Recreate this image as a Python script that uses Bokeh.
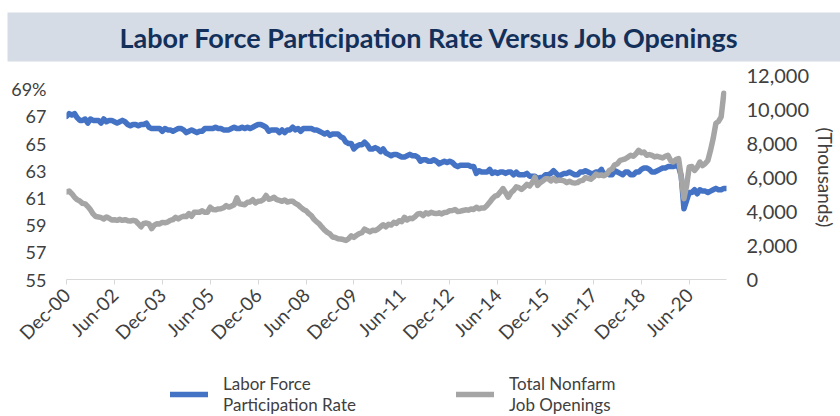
import math
from bokeh.plotting import figure
from bokeh.layouts import column
from bokeh.models import (Range1d, LinearAxis, FixedTicker, NumeralTickFormatter,
                          Legend, LegendItem, Title)
from bokeh.embed import file_html
from bokeh.resources import INLINE

# ---------------- data ----------------
# Monthly, index 0 = Dec 2000
lfpr = [
    67.0,
    67.2, 67.1, 67.2, 66.9, 66.7, 66.7, 66.8, 66.5, 66.8, 66.7, 66.7, 66.7,   # 2001
    66.5, 66.8, 66.6, 66.7, 66.7, 66.6, 66.5, 66.6, 66.7, 66.6, 66.4, 66.3,   # 2002
    66.4, 66.4, 66.3, 66.4, 66.4, 66.5, 66.2, 66.1, 66.1, 66.1, 66.1, 65.9,   # 2003
    66.1, 66.0, 66.0, 65.9, 66.0, 66.1, 66.1, 66.0, 65.8, 65.9, 66.0, 65.9,   # 2004
    65.8, 65.9, 65.9, 66.1, 66.1, 66.1, 66.1, 66.2, 66.1, 66.1, 66.0, 66.0,   # 2005
    66.0, 66.1, 66.2, 66.1, 66.1, 66.2, 66.1, 66.2, 66.1, 66.2, 66.3, 66.4,   # 2006
    66.4, 66.3, 66.2, 65.9, 66.0, 66.0, 66.0, 65.8, 66.0, 65.8, 66.0, 66.0,   # 2007
    66.2, 66.0, 66.1, 65.9, 66.1, 66.1, 66.1, 66.1, 66.0, 66.0, 65.9, 65.8,   # 2008
    65.7, 65.8, 65.6, 65.7, 65.7, 65.7, 65.5, 65.4, 65.1, 65.0, 65.0, 64.6,   # 2009
    64.8, 64.9, 64.9, 65.1, 64.9, 64.6, 64.6, 64.7, 64.6, 64.4, 64.6, 64.3,   # 2010
    64.2, 64.1, 64.2, 64.2, 64.1, 64.0, 64.0, 64.1, 64.2, 64.1, 64.1, 64.0,   # 2011
    63.7, 63.8, 63.8, 63.7, 63.7, 63.8, 63.7, 63.5, 63.6, 63.7, 63.6, 63.7,   # 2012
    63.6, 63.4, 63.3, 63.4, 63.4, 63.4, 63.4, 63.3, 63.3, 62.8, 63.0, 62.9,   # 2013
    62.9, 62.9, 63.1, 62.8, 62.9, 62.8, 62.9, 62.9, 62.8, 62.9, 62.9, 62.7,   # 2014
    62.9, 62.7, 62.7, 62.7, 62.8, 62.6, 62.6, 62.6, 62.4, 62.5, 62.5, 62.7,   # 2015
    62.7, 62.8, 63.0, 62.8, 62.6, 62.7, 62.8, 62.8, 62.9, 62.8, 62.7, 62.7,   # 2016
    62.9, 62.9, 63.0, 62.9, 62.8, 62.8, 62.9, 62.9, 63.1, 62.7, 62.8, 62.7,   # 2017
    62.7, 63.0, 62.9, 62.8, 62.7, 62.9, 62.9, 62.7, 62.7, 62.9, 62.9, 63.1,   # 2018
    63.2, 63.2, 63.1, 62.9, 62.9, 63.0, 63.1, 63.2, 63.2, 63.3, 63.3, 63.3,   # 2019
    63.4, 63.3, 62.6, 60.2, 60.8, 61.4, 61.4, 61.6, 61.3, 61.6, 61.5, 61.5,   # 2020
    61.4, 61.5, 61.6, 61.7, 61.6, 61.6, 61.7, 61.7,                           # 2021
]

# Total nonfarm job openings, thousands, index 0 = Dec 2000
openings = [
    5150,
    5200, 5050, 4840, 4700, 4620, 4480, 4450, 4300, 4100, 3860, 3700, 3680,   # 2001
    3640, 3560, 3680, 3600, 3500, 3520, 3480, 3540, 3480, 3520, 3460, 3440,   # 2002
    3480, 3440, 3280, 3100, 3300, 3320, 3270, 2990, 3200, 3280, 3270, 3360,   # 2003
    3340, 3380, 3480, 3520, 3660, 3560, 3660, 3720, 3700, 3880, 3720, 3950,   # 2004
    3960, 3960, 4040, 3950, 3960, 4250, 4120, 4100, 4150, 4160, 4220, 4350,   # 2005
    4260, 4320, 4400, 4800, 4450, 4430, 4400, 4540, 4560, 4690, 4500, 4600,   # 2006
    4620, 4700, 4940, 4720, 4760, 4840, 4700, 4650, 4600, 4680, 4560, 4600,   # 2007
    4600, 4480, 4400, 4250, 4120, 4050, 3880, 3760, 3540, 3390, 3270, 3080,   # 2008
    2900, 2770, 2680, 2500, 2470, 2400, 2380, 2350, 2300, 2400, 2570, 2480,   # 2009
    2600, 2700, 2750, 2970, 2880, 2800, 2900, 2880, 2970, 3100, 3220, 3100,   # 2010
    3250, 3200, 3360, 3300, 3460, 3400, 3660, 3500, 3600, 3580, 3700, 3860,   # 2011
    3880, 3760, 3920, 3860, 3950, 3900, 3880, 3920, 3860, 3940, 3960, 4050,   # 2012
    4060, 4120, 4000, 4020, 4060, 4100, 4080, 4150, 4120, 4250, 4160, 4210,   # 2013
    4210, 4350, 4540, 4750, 4900, 4950, 5140, 5350, 5100, 4840, 5100, 5240,   # 2014
    5450, 5400, 5300, 5430, 5600, 5500, 5700, 6020, 5530, 5700, 5800, 5930,   # 2015
    5930, 5800, 5950, 5800, 5850, 5830, 5800, 5700, 5780, 5700, 5670, 5700,   # 2016
    5800, 5830, 6000, 5950, 5900, 6020, 6200, 6120, 6150, 6100, 6200, 6420,   # 2017
    6500, 6750, 6800, 7010, 7050, 7100, 7200, 7310, 7250, 7400, 7600, 7450,   # 2018
    7500, 7310, 7350, 7300, 7210, 7250, 7200, 7150, 7250, 7310, 7000, 6910,   # 2019
    7050, 7110, 6000, 4750, 5500, 6620, 6650, 6420, 6600, 6910, 6700, 6820,   # 2020
    7000, 7600, 8300, 9180, 9300, 9570, 10960,                                # 2021
]

tick_positions = [0, 18, 36, 54, 72, 90, 108, 126, 144, 162, 180, 198, 216, 234]
tick_labels = ["Dec-00", "Jun-02", "Dec-03", "Jun-05", "Dec-06", "Jun-08", "Dec-09",
               "Jun-11", "Dec-12", "Jun-14", "Dec-15", "Jun-17", "Dec-18", "Jun-20"]
left_ticks = [55, 57, 59, 61, 63, 65, 67, 69]
right_ticks = [0, 2000, 4000, 6000, 8000, 10000, 12000]

title_text = "Labor Force Participation Rate Versus Job Openings"
series_names = ["Labor Force\nParticipation Rate", "Total Nonfarm\nJob Openings"]
colors = ["#4472C4", "#A5A5A5"]

FONT = "Lato"
LABEL_COLOR = "#404040"
BAND = "#D6DCE5"
LINE_W = 5.5

x_lfpr = list(range(len(lfpr)))
x_open = list(range(len(openings)))

# ---------------- main chart ----------------
p = figure(width=840, height=362, output_backend="svg", toolbar_location=None,
           x_range=Range1d(0, len(lfpr) - 1), y_range=Range1d(55, 70),
           min_border_left=66, min_border_right=112, min_border_top=75,
           min_border_bottom=83)
p.extra_y_ranges = {"jobs": Range1d(0, 12000)}
p.outline_line_color = None
p.grid.visible = False

p.title = Title(text=title_text, align="left", offset=-59, vertical_align="top",
                text_font=FONT, text_font_style="bold", text_font_size="27px",
                text_color="#13305A", background_fill_color=BAND,
                padding=dict(left=112, right=104, top=8, bottom=8),
                standoff=24)

r1 = p.line(x_lfpr, lfpr, line_color=colors[0], line_width=LINE_W,
            line_join="round", line_cap="round")
r2 = p.line(x_open, openings, line_color=colors[1], line_width=LINE_W,
            line_join="round", line_cap="round", y_range_name="jobs")

# x axis
xa = p.xaxis[0]
xa.ticker = FixedTicker(ticks=tick_positions)
xa.major_label_overrides = {t_: l for t_, l in zip(tick_positions, tick_labels)}
xa.major_label_orientation = math.pi / 4
xa.axis_line_color = "#D9D9D9"
xa.axis_line_width = 1
xa.major_tick_line_color = "#D9D9D9"
xa.major_tick_in = 0
xa.major_tick_out = 5
xa.minor_tick_line_color = None
xa.major_label_text_font = FONT
xa.major_label_text_font_size = "19px"
xa.major_label_text_color = LABEL_COLOR
xa.major_label_standoff = 7

# left axis
ya = p.yaxis[0]
ya.ticker = FixedTicker(ticks=left_ticks)
ya.major_label_overrides = {69: "69%"}
ya.axis_line_color = None
ya.major_tick_line_color = None
ya.major_tick_in = 0
ya.major_tick_out = 0
ya.minor_tick_line_color = None
ya.major_label_text_font = FONT
ya.major_label_text_font_size = "18px"
ya.major_label_text_color = LABEL_COLOR
ya.major_label_standoff = 20

# right axis
ra = LinearAxis(y_range_name="jobs", ticker=FixedTicker(ticks=right_ticks),
                formatter=NumeralTickFormatter(format="0,0"))
ra.axis_label = "(Thousands)"
ra.axis_label_text_font = FONT
ra.axis_label_text_font_size = "19px"
ra.axis_label_text_font_style = "normal"
ra.axis_label_text_color = LABEL_COLOR
ra.axis_label_standoff = 2
ra.axis_line_color = None
ra.major_tick_line_color = None
ra.major_tick_in = 0
ra.major_tick_out = 0
ra.minor_tick_line_color = None
ra.major_label_text_font = FONT
ra.major_label_text_font_size = "20px"
ra.major_label_text_color = LABEL_COLOR
ra.major_label_standoff = 20
p.add_layout(ra, "right")

# ---------------- legend strip ----------------
# The strip's y range holds no data, so its lines stay out of view; they only
# give the legend its line samples.
lg = figure(width=840, height=54, output_backend="svg", toolbar_location=None,
            x_range=Range1d(0, len(lfpr) - 1), y_range=Range1d(-2, -1),
            x_axis_location=None, y_axis_location=None,
            min_border_left=66, min_border_right=112, min_border_top=0,
            min_border_bottom=0)
lg.outline_line_color = None
lg.grid.visible = False
s1 = lg.line(x_lfpr, lfpr, line_color=colors[0], line_width=LINE_W, line_cap="round")
s2 = lg.line(x_open, openings, line_color=colors[1], line_width=LINE_W, line_cap="round")
legend = Legend(items=[LegendItem(label=series_names[0], renderers=[s1]),
                       LegendItem(label=series_names[1], renderers=[s2])],
                orientation="horizontal", location=(104, 1),
                margin=0, padding=0, spacing=100,
                glyph_width=38, glyph_height=20, label_standoff=15,
                label_text_font=FONT, label_text_font_size="17px",
                label_text_color=LABEL_COLOR, label_text_line_height=1.2,
                border_line_color=None, background_fill_alpha=0)
lg.add_layout(legend, "center")

layout = column(p, lg, spacing=0)
open("out.html", "w").write(file_html(layout, INLINE))
